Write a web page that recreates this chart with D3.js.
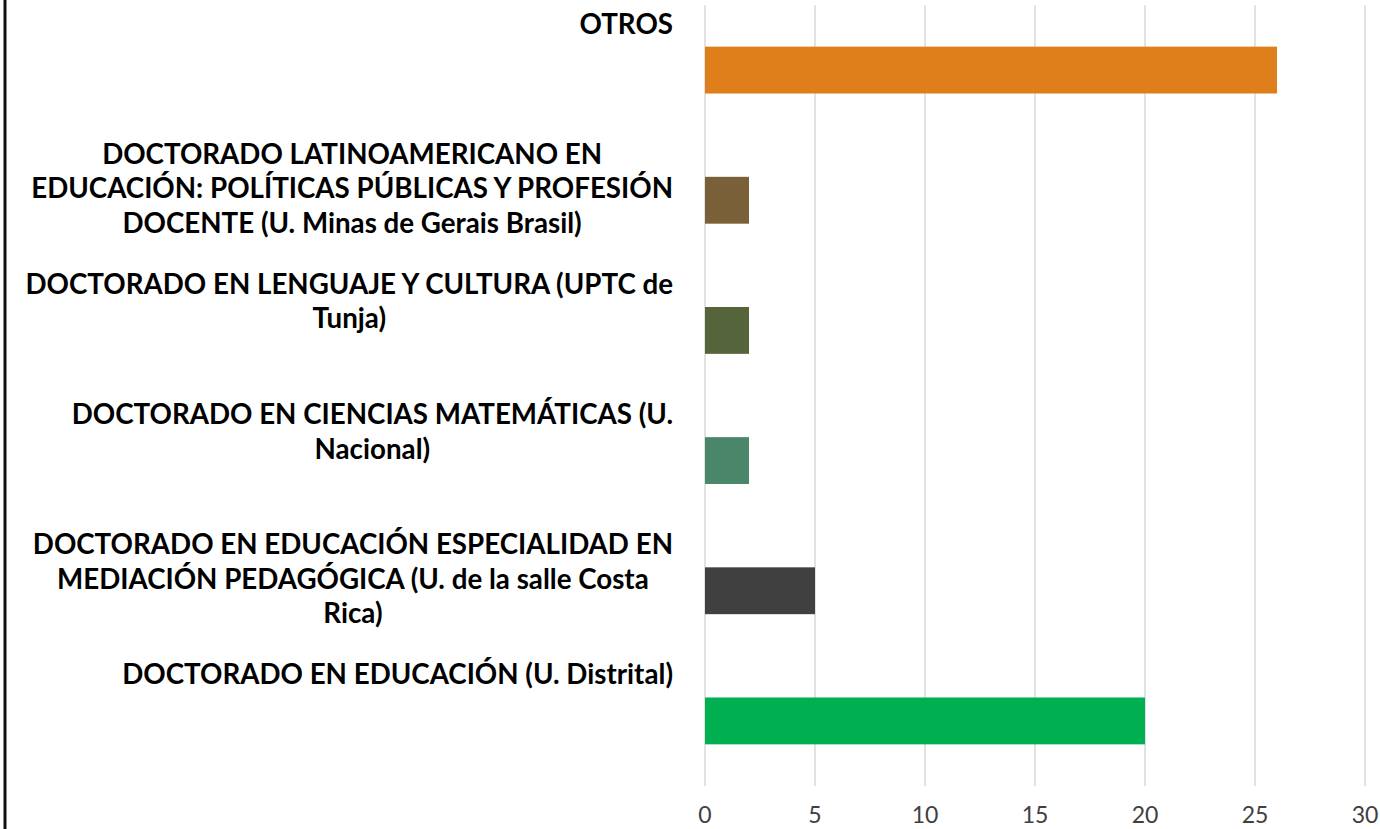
<!DOCTYPE html>
<html>
<head>
<meta charset="utf-8">
<script src="https://cdn.jsdelivr.net/npm/d3@7"></script>
<style>
	body { margin: 0; background: #fff; }
	.cat-label { font-family: "Lato", sans-serif; font-weight: bold; fill: #000; }
	.tick-label { font-family: "Lato", sans-serif; fill: #404040; }
</style>
</head>
<body>
<svg class="chart-svg" width="1380" height="829"></svg>
<script>

// categories top to bottom, "\n" marks where the original label wraps
var categories = [
	"OTROS",
	"DOCTORADO LATINOAMERICANO EN\nEDUCACIÓN: POLÍTICAS PÚBLICAS Y PROFESIÓN\nDOCENTE (U. Minas de Gerais Brasil)",
	"DOCTORADO EN LENGUAJE Y CULTURA (UPTC de\nTunja)",
	"DOCTORADO EN CIENCIAS MATEMÁTICAS (U.\nNacional)",
	"DOCTORADO EN EDUCACIÓN ESPECIALIDAD EN\nMEDIACIÓN PEDAGÓGICA (U. de la salle Costa\nRica)",
	"DOCTORADO EN EDUCACIÓN (U. Distrital)"
]
var values = [26, 2, 2, 2, 5, 20]
var colors = ["#df7f1b", "#7a6039", "#55643a", "#4a876a", "#404040", "#00b050"]
var tickValues = [0, 5, 10, 15, 20, 25, 30]

var svg = d3.select(".chart-svg")

// left frame line
svg.append("line")
	.attr("x1", 5).attr("x2", 5)
	.attr("y1", 0).attr("y2", 829)
	.attr("stroke", "#111")
	.attr("stroke-width", 3)

var xScale = d3.scaleLinear()
	.domain([0, 30])
	.range([705, 1365])

var yScale = d3.scaleBand()
	.domain(categories)
	.range([5, 786])
	.paddingInner(0.64)
	.paddingOuter(0.32)

// gridlines
svg.append("g").selectAll("line")
	.data(tickValues).enter()
	.append("line")
	.attr("x1", function(d) { return xScale(d) })
	.attr("x2", function(d) { return xScale(d) })
	.attr("y1", 5)
	.attr("y2", 786)
	.attr("stroke", "#d9d9d9")
	.attr("stroke-width", 1.5)

// tick labels
svg.append("g").selectAll("text")
	.data(tickValues).enter()
	.append("text")
	.attr("class", "tick-label")
	.attr("x", function(d) { return xScale(d) })
	.attr("y", 823)
	.attr("text-anchor", "middle")
	.style("font-size", "23px")
	.text(function(d) { return d })

// bars
svg.append("g").selectAll("rect")
	.data(values).enter()
	.append("rect")
	.attr("x", xScale(0))
	.attr("y", function(d, i) { return yScale(categories[i]) })
	.attr("width", function(d) { return xScale(d) - xScale(0) })
	.attr("height", yScale.bandwidth())
	.attr("fill", function(d, i) { return colors[i] })

// fit label font so the longest line is as wide as in the original
var probe = svg.append("text").attr("class", "cat-label")
	.style("font-size", "100px")
	.text("DOCTORADO EN LENGUAJE Y CULTURA (UPTC de")
var fontSize = 100 * 648 / probe.node().getComputedTextLength()
probe.remove()

var rightEdge = 673
var lineHeight = 34.5

var labels = svg.append("g")
categories.forEach(function(cat) {
	var lines = cat.split("\n")
	var group = labels.append("text")
		.attr("class", "cat-label")
		.style("font-size", fontSize + "px")
		.attr("text-anchor", "middle")
	var spans = lines.map(function(line, j) {
		return group.append("tspan")
			.attr("y", yScale(cat) - 13 + j * lineHeight)
			.text(line)
	})
	var maxW = d3.max(spans, function(s) { return s.node().getComputedTextLength() })
	spans.forEach(function(s) { s.attr("x", rightEdge - maxW / 2) })
})

</script>
</body>
</html>
